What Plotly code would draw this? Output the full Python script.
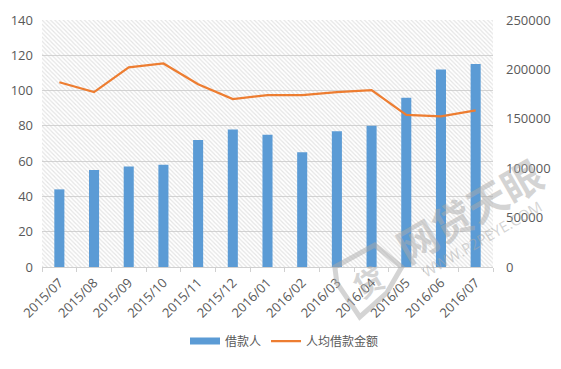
import plotly.graph_objects as go

months = ["2015/07","2015/08","2015/09","2015/10","2015/11","2015/12","2016/01","2016/02","2016/03","2016/04","2016/05","2016/06","2016/07"]
borrowers = [44,55,57,58,72,78,75,65,77,80,96,112,115]
avg_loan = [187000,177000,202000,206000,185000,170000,174000,174000,177000,179000,154000,152500,158500]
hatch_top = [140]*13

CJK = "Noto Sans CJK SC"
LAT = "Open Sans, Noto Sans CJK SC"
TXT = "#595959"
BLUE = "#5B9BD5"
MARK = "rgba(170,170,170,0.5)"
W, H = 553, 361
L, T, R, B = 33.5, 11.5, 67.5, 102
PW, PH = W-L-R, H-T-B
def px(x): return (x-8-L)/PW
def py(y): return 1-(y-8-T)/PH

fig = go.Figure()
fig.add_bar(x=months, y=hatch_top, width=1, showlegend=False, hoverinfo="skip",
            marker=dict(color="rgba(0,0,0,0)", line=dict(width=0),
                        pattern=dict(shape="\\", size=3, solidity=0.4, fgcolor="#cacaca", bgcolor="rgba(255,255,255,0)")))
fig.add_bar(x=months, y=borrowers, width=0.29, showlegend=False,
            marker=dict(color=BLUE, line=dict(width=0)))
fig.add_scatter(x=months, y=[None]*13, name="借款人", mode="lines", line=dict(color=BLUE, width=7))
fig.add_scatter(x=months, y=avg_loan, name="人均借款金额", mode="lines", yaxis="y2",
                line=dict(color="#ED7D31", width=2.25))

logo = [(335,267),(375,245),(402,267),(387,293),(360,317),(337,283)]
logo_path = "M" + " L".join(f"{px(a):.4f},{py(b):.4f}" for a, b in logo) + " Z"

fig.update_layout(
    width=W, height=H, autosize=False, barmode="overlay",
    margin=dict(l=L, r=R, t=T, b=B, pad=0, autoexpand=False),
    paper_bgcolor="white", plot_bgcolor="white",
    font=dict(family=LAT, size=12, color=TXT),
    xaxis=dict(type="category", range=[-0.5,12.5], tickangle=-45, ticks="outside", ticklen=4, tickcolor="#d0d0d0",
               showgrid=False, showline=True, linecolor="#d0d0d0", linewidth=1, tickson="boundaries",
               ticklabelstandoff=2, tickfont=dict(size=13, color=TXT)),
    yaxis=dict(range=[0,140], dtick=20, showgrid=True, gridcolor="#d4d4d4", gridwidth=1, zeroline=False,
               tickfont=dict(size=13, color=TXT), ticks="", ticklabelstandoff=8),
    yaxis2=dict(range=[0,250000], dtick=50000, overlaying="y", side="right", showgrid=False, zeroline=False,
                tickformat="d", tickfont=dict(size=13, color=TXT), ticks="", ticklabelstandoff=12),
    legend=dict(orientation="h", xref="container", yref="container", x=(185-8)/W, y=1-(341-8)/H,
                xanchor="left", yanchor="middle",
                font=dict(family=CJK, size=12, color=TXT), bgcolor="rgba(0,0,0,0)",
                itemwidth=30, tracegroupgap=0),
    shapes=[dict(type="path", xref="paper", yref="paper", path=logo_path, layer="above",
                 line=dict(color=MARK, width=5))],
    annotations=[
        dict(text="<b>网贷天眼</b>", xref="paper", yref="paper", x=px(469), y=py(210),
             xanchor="center", yanchor="middle",
             showarrow=False, textangle=-30, font=dict(family=CJK, size=40, color=MARK)),
        dict(text="WWW.P2PEYE.COM", xref="paper", yref="paper", x=px(482), y=py(239),
             xanchor="center", yanchor="middle",
             showarrow=False, textangle=-30, font=dict(family=LAT, size=15, color=MARK)),
        dict(text="<b>贷</b>", xref="paper", yref="paper", x=px(368), y=py(281),
             xanchor="center", yanchor="middle",
             showarrow=False, textangle=-30, font=dict(family=CJK, size=30, color=MARK)),
    ],
)
fig.write_html("out.html")
